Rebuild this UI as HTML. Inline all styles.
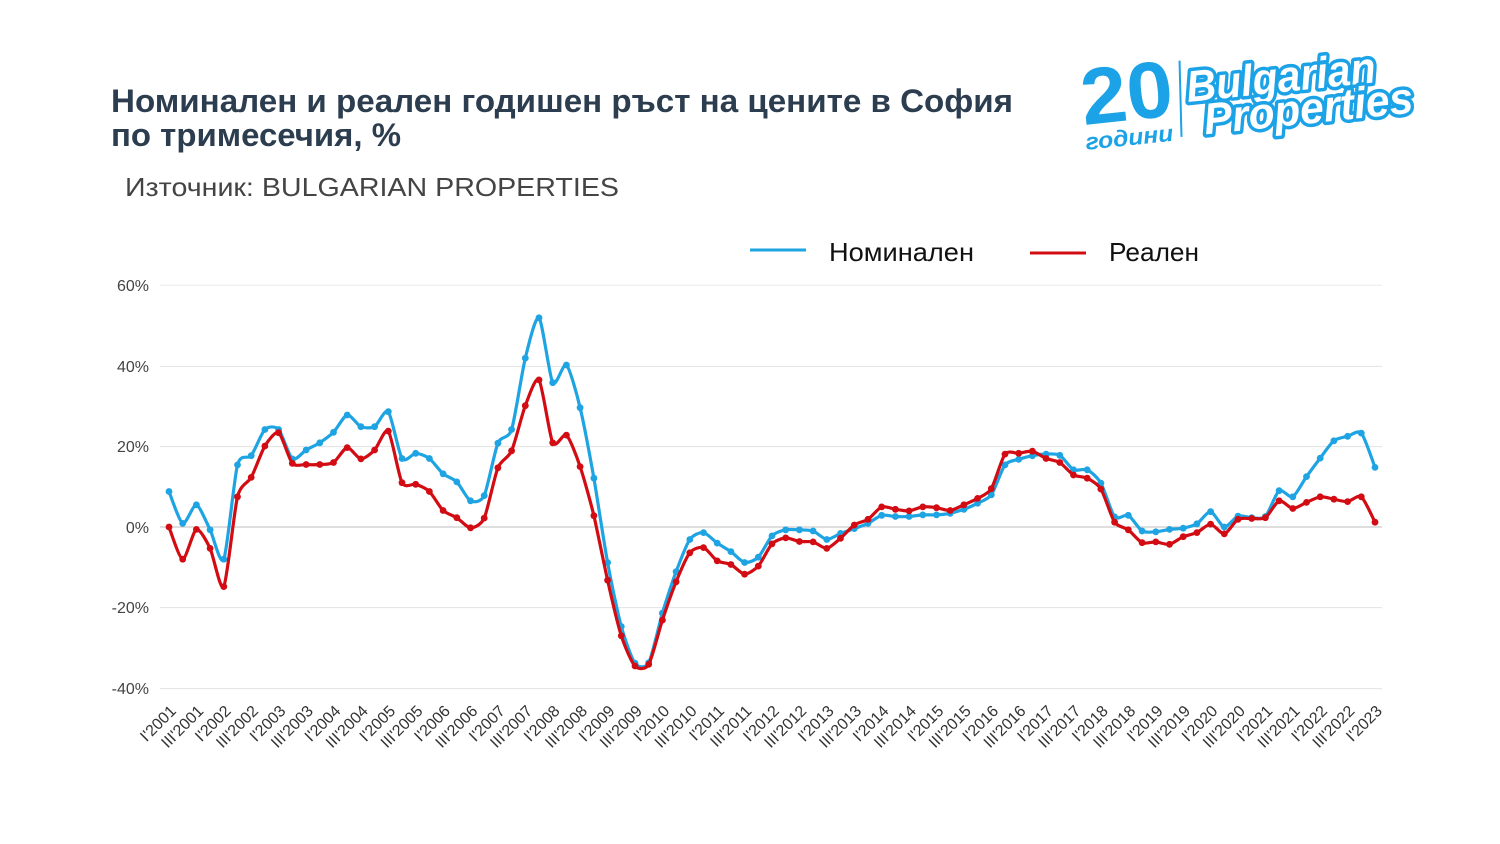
<!DOCTYPE html>
<html>
<head>
<meta charset="utf-8">
<style>
  html,body{margin:0;padding:0;background:#fff;}
  body{width:1500px;height:844px;overflow:hidden;}
  svg{display:block;font-family:"Liberation Sans", Arial, sans-serif;}
</style>
</head>
<body>
<svg id="chart" width="1500" height="844" viewBox="0 0 1500 844" xmlns="http://www.w3.org/2000/svg">
  <rect width="1500" height="844" fill="#ffffff"/>

  <!-- Title -->
  <text x="111" y="112" font-size="32" font-weight="bold" fill="#2c3d4f" textLength="902" lengthAdjust="spacingAndGlyphs">Номинален и реален годишен ръст на цените в София</text>
  <text x="111" y="146" font-size="32" font-weight="bold" fill="#2c3d4f" textLength="290" lengthAdjust="spacingAndGlyphs">по тримесечия, %</text>
  <text x="125" y="196" font-size="26" fill="#444444" textLength="494" lengthAdjust="spacingAndGlyphs">Източник: BULGARIAN PROPERTIES</text>

  <!-- Logo -->
  <g transform="rotate(-6 1245 100)">
    <text x="1082" y="108" font-size="80" font-weight="bold" fill="#1ca2e6" textLength="92" lengthAdjust="spacingAndGlyphs">20</text>
    <text x="1082" y="133" font-size="23" font-weight="bold" font-style="italic" fill="#1ca2e6" textLength="88" lengthAdjust="spacingAndGlyphs">години</text>
    <line x1="1184" y1="54" x2="1178" y2="130" stroke="#1ca2e6" stroke-width="2"/>
    <text x="1188" y="96" font-size="44" font-weight="bold" font-style="italic" fill="#ffffff" stroke="#1ca2e6" stroke-width="7" paint-order="stroke" stroke-linejoin="round" textLength="190" lengthAdjust="spacingAndGlyphs">Bulgarian</text>
    <text x="1202" y="130" font-size="44" font-weight="bold" font-style="italic" fill="#ffffff" stroke="#1ca2e6" stroke-width="7" paint-order="stroke" stroke-linejoin="round" textLength="210" lengthAdjust="spacingAndGlyphs">Properties</text>
  </g>

  <!-- Legend -->
  <line x1="750" y1="250" x2="806" y2="250" stroke="#1ea4e2" stroke-width="3"/>
  <text x="829" y="261" font-size="26" fill="#111111" textLength="145" lengthAdjust="spacingAndGlyphs">Номинален</text>
  <line x1="1030" y1="253" x2="1086" y2="253" stroke="#d20c12" stroke-width="3"/>
  <text x="1109" y="261" font-size="26" fill="#111111" textLength="90" lengthAdjust="spacingAndGlyphs">Реален</text>

  <!-- Gridlines -->
  <g stroke-width="1">
    <line x1="160" y1="285.2" x2="1382" y2="285.2" stroke="#ebebeb"/>
    <line x1="160" y1="366.4" x2="1382" y2="366.4" stroke="#e3e3e3"/>
    <line x1="160" y1="446.6" x2="1382" y2="446.6" stroke="#e3e3e3"/>
    <line x1="160" y1="607.6" x2="1382" y2="607.6" stroke="#e3e3e3"/>
    <line x1="160" y1="688.6" x2="1382" y2="688.6" stroke="#e3e3e3"/>
    <line x1="160" y1="527" x2="1382" y2="527" stroke="#bdbdbd"/>
  </g>

  <!-- Y labels -->
  <g font-size="16" fill="#444444" text-anchor="end">
    <text x="149" y="291">60%</text>
    <text x="149" y="372">40%</text>
    <text x="149" y="452">20%</text>
    <text x="149" y="533">0%</text>
    <text x="149" y="613">-20%</text>
    <text x="149" y="694">-40%</text>
  </g>

  <!-- X labels -->
  <g font-size="16" fill="#333333" text-anchor="end">
    <text transform="translate(177,712) rotate(-45)">I'2001</text>
    <text transform="translate(204.4,712) rotate(-45)">III'2001</text>
    <text transform="translate(231.8,712) rotate(-45)">I'2002</text>
    <text transform="translate(259.2,712) rotate(-45)">III'2002</text>
    <text transform="translate(286.6,712) rotate(-45)">I'2003</text>
    <text transform="translate(314.1,712) rotate(-45)">III'2003</text>
    <text transform="translate(341.5,712) rotate(-45)">I'2004</text>
    <text transform="translate(368.9,712) rotate(-45)">III'2004</text>
    <text transform="translate(396.3,712) rotate(-45)">I'2005</text>
    <text transform="translate(423.7,712) rotate(-45)">III'2005</text>
    <text transform="translate(451.1,712) rotate(-45)">I'2006</text>
    <text transform="translate(478.5,712) rotate(-45)">III'2006</text>
    <text transform="translate(505.9,712) rotate(-45)">I'2007</text>
    <text transform="translate(533.3,712) rotate(-45)">III'2007</text>
    <text transform="translate(560.7,712) rotate(-45)">I'2008</text>
    <text transform="translate(588.2,712) rotate(-45)">III'2008</text>
    <text transform="translate(615.6,712) rotate(-45)">I'2009</text>
    <text transform="translate(643,712) rotate(-45)">III'2009</text>
    <text transform="translate(670.4,712) rotate(-45)">I'2010</text>
    <text transform="translate(697.8,712) rotate(-45)">III'2010</text>
    <text transform="translate(725.2,712) rotate(-45)">I'2011</text>
    <text transform="translate(752.6,712) rotate(-45)">III'2011</text>
    <text transform="translate(780,712) rotate(-45)">I'2012</text>
    <text transform="translate(807.4,712) rotate(-45)">III'2012</text>
    <text transform="translate(834.8,712) rotate(-45)">I'2013</text>
    <text transform="translate(862.3,712) rotate(-45)">III'2013</text>
    <text transform="translate(889.7,712) rotate(-45)">I'2014</text>
    <text transform="translate(917.1,712) rotate(-45)">III'2014</text>
    <text transform="translate(944.5,712) rotate(-45)">I'2015</text>
    <text transform="translate(971.9,712) rotate(-45)">III'2015</text>
    <text transform="translate(999.3,712) rotate(-45)">I'2016</text>
    <text transform="translate(1026.7,712) rotate(-45)">III'2016</text>
    <text transform="translate(1054.1,712) rotate(-45)">I'2017</text>
    <text transform="translate(1081.5,712) rotate(-45)">III'2017</text>
    <text transform="translate(1108.9,712) rotate(-45)">I'2018</text>
    <text transform="translate(1136.4,712) rotate(-45)">III'2018</text>
    <text transform="translate(1163.8,712) rotate(-45)">I'2019</text>
    <text transform="translate(1191.2,712) rotate(-45)">III'2019</text>
    <text transform="translate(1218.6,712) rotate(-45)">I'2020</text>
    <text transform="translate(1246,712) rotate(-45)">III'2020</text>
    <text transform="translate(1273.4,712) rotate(-45)">I'2021</text>
    <text transform="translate(1300.8,712) rotate(-45)">III'2021</text>
    <text transform="translate(1328.2,712) rotate(-45)">I'2022</text>
    <text transform="translate(1355.6,712) rotate(-45)">III'2022</text>
    <text transform="translate(1383,712) rotate(-45)">I'2023</text>
  </g>

  <g id="series"></g>
</svg>

<script>
(function(){
  var blue=[8.8,0.9,5.5,-0.7,-8,15.4,17.7,24.2,24.2,16.9,19.1,20.9,23.5,27.8,24.9,24.9,28.6,17,18.3,17,13.2,11.2,6.5,7.8,20.8,24.2,41.9,51.9,35.8,40.2,29.6,12.1,-8.8,-24.7,-33.8,-33.7,-21.4,-11.1,-3.1,-1.4,-4,-6.1,-8.8,-7.5,-2.2,-0.7,-0.7,-1,-3.1,-1.6,-0.4,0.9,2.9,2.6,2.6,3,3,3.4,4.4,5.9,8,15.4,16.8,17.7,18.1,17.8,14.2,14.2,10.9,2.5,2.9,-1,-1.2,-0.6,-0.3,0.8,3.8,0,2.7,2.3,2.6,9,7.5,12.5,17.1,21.4,22.5,23.3,14.8];
  var red=[0,-8,-0.6,-5.3,-14.8,7.5,12.3,20.1,23.4,15.8,15.5,15.5,16,19.7,16.9,19.1,23.8,11,10.6,8.8,4.1,2.3,-0.2,2.2,14.7,18.9,30.1,36.5,20.9,22.8,15,2.8,-13.2,-27,-34.5,-34.1,-23.1,-13.6,-6.4,-5.1,-8.4,-9.3,-11.7,-9.7,-4.2,-2.7,-3.6,-3.7,-5.3,-2.8,0.5,1.9,5,4.4,4,5,4.8,4.1,5.5,7.1,9.5,18.1,18.3,18.8,17,16,12.9,12.1,9.4,1.2,-0.7,-3.9,-3.7,-4.3,-2.4,-1.4,0.7,-1.7,1.9,2.1,2.3,6.5,4.6,6.1,7.5,6.9,6.3,7.5,1.2];
  function X(i){return 169+i*13.705;}
  function Y(v){return 527-v*4.03;}
  var NS="http://www.w3.org/2000/svg";
  var g=document.getElementById("series");
  function draw(data,color){
    var p=data.map(function(v,i){return [X(i),Y(v)];});
    var t=0.12;
    var d="M"+p[0][0].toFixed(1)+","+p[0][1].toFixed(1);
    for(var i=0;i<p.length-1;i++){
      var p0=p[i>0?i-1:i],p1=p[i],p2=p[i+1],p3=p[i+2<p.length?i+2:i+1];
      var c1x=p1[0]+(p2[0]-p0[0])*t,c1y=p1[1]+(p2[1]-p0[1])*t;
      var c2x=p2[0]-(p3[0]-p1[0])*t,c2y=p2[1]-(p3[1]-p1[1])*t;
      d+=" C"+c1x.toFixed(1)+","+c1y.toFixed(1)+" "+c2x.toFixed(1)+","+c2y.toFixed(1)+" "+p2[0].toFixed(1)+","+p2[1].toFixed(1);
    }
    var path=document.createElementNS(NS,"path");
    path.setAttribute("d",d);path.setAttribute("fill","none");
    path.setAttribute("stroke",color);path.setAttribute("stroke-width","3.2");
    path.setAttribute("stroke-linejoin","round");
    g.appendChild(path);
    p.forEach(function(q){
      var c=document.createElementNS(NS,"circle");
      c.setAttribute("cx",q[0].toFixed(1));c.setAttribute("cy",q[1].toFixed(1));
      c.setAttribute("r","3.4");c.setAttribute("fill",color);
      g.appendChild(c);
    });
  }
  draw(blue,"#1ea4e2");
  draw(red,"#d20c12");
})();
</script>
</body>
</html>
